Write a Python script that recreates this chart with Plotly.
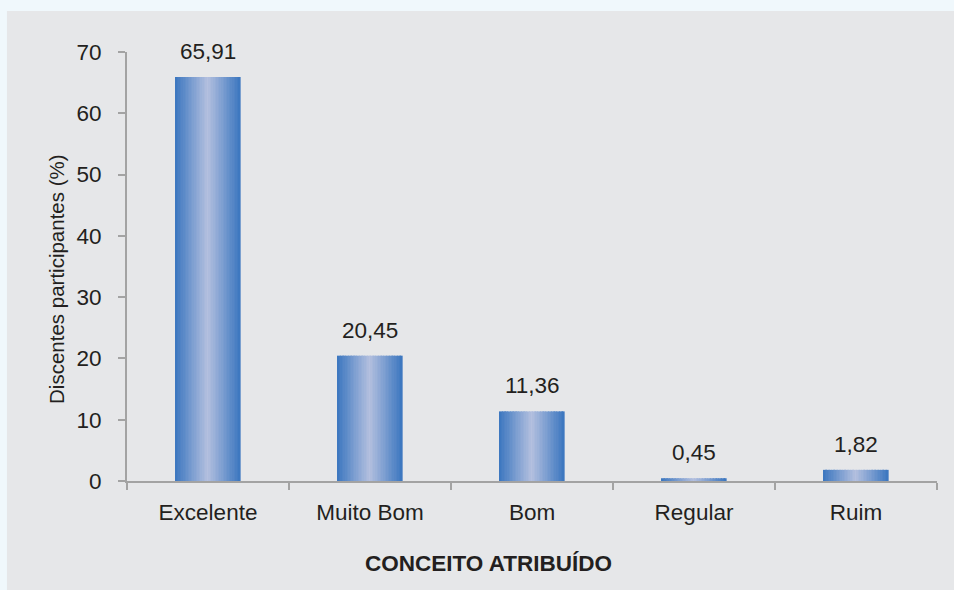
import plotly.graph_objects as go

# Data
categorias = ["Excelente", "Muito Bom", "Bom", "Regular", "Ruim"]
percentuais = [65.91, 20.45, 11.36, 0.45, 1.82]
y_ticks = [0, 10, 20, 30, 40, 50, 60, 70]

FONT = "Liberation Sans, Arial, sans-serif"
TEXT = "#231f20"
AXIS = "#a3a3a3"

BAR_W = 0.4
N_STRIPS = 41
EDGE = (62, 120, 192)
MID = (180, 192, 223)


def mix(t):
    r = [round(MID[k] + (EDGE[k] - MID[k]) * t) for k in range(3)]
    return f"rgb({r[0]},{r[1]},{r[2]})"


fig = go.Figure()

# Each bar is painted as thin vertical strips to give a horizontal metallic gradient
sw = BAR_W / N_STRIPS
for i in range(N_STRIPS):
    off = -BAR_W / 2 + i * sw
    centre = off + sw / 2
    t = abs(centre) / (BAR_W / 2 - sw / 2)
    fig.add_trace(go.Bar(
        x=categorias, y=percentuais,
        width=sw * 1.15, offset=off,
        marker=dict(color=mix(min(t, 1.0)), line=dict(width=0)),
        hoverinfo="skip", showlegend=False,
    ))

# Value labels above the bars
for c, v in zip(categorias, percentuais):
    fig.add_annotation(
        x=c, y=v, xref="x", yref="y",
        text=f"{v:.2f}".replace(".", ","),
        showarrow=False, yanchor="bottom", yshift=11,
        font=dict(family=FONT, size=22.5, color=TEXT),
    )

# Axis titles
fig.add_annotation(
    x=0.4457, y=-0.193, xref="paper", yref="paper",
    text="<b>CONCEITO ATRIBUÍDO</b>", showarrow=False,
    xanchor="center", yanchor="middle",
    font=dict(family=FONT, size=22.5, color=TEXT),
)
fig.add_annotation(
    x=-0.0864, y=0.471, xref="paper", yref="paper",
    text="Discentes participantes (%)", showarrow=False, textangle=-90,
    xanchor="center", yanchor="middle",
    font=dict(family=FONT, size=20.5, color=TEXT),
)

# Grey chart panel on the light page background
fig.add_shape(
    type="rect", xref="paper", yref="paper",
    x0=-0.1482, x1=1.03, y0=-0.26, y1=1.0956,
    fillcolor="#e6e7e9", line=dict(width=0), layer="below",
)

fig.update_layout(
    width=954, height=590,
    margin=dict(l=127, r=17, t=52, b=109),
    paper_bgcolor="#f0f8fc",
    plot_bgcolor="#e6e7e9",
    barmode="overlay",
    font=dict(family=FONT, size=22.5, color=TEXT),
    xaxis=dict(
        type="category", tickson="boundaries",
        ticks="outside", ticklen=7, tickwidth=2, tickcolor=AXIS,
        showline=True, linecolor=AXIS, linewidth=2,
        showgrid=False, ticklabelstandoff=10,
        tickfont=dict(family=FONT, size=22.5, color=TEXT),
    ),
    yaxis=dict(
        range=[0, 70], tickvals=y_ticks,
        ticks="outside", ticklen=7, tickwidth=2, tickcolor=AXIS,
        showline=True, linecolor=AXIS, linewidth=2,
        showgrid=False, zeroline=False, ticklabelstandoff=12,
        tickfont=dict(family=FONT, size=22.5, color=TEXT),
    ),
)

fig.write_html("out.html")
